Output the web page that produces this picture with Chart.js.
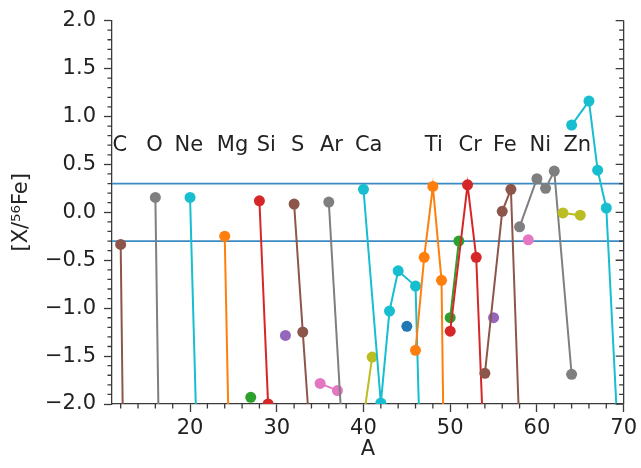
<!DOCTYPE html>
<html>
<head>
<meta charset="utf-8">
<script src="https://cdn.jsdelivr.net/npm/chart.js@4.4.1/dist/chart.umd.min.js"></script>
<style>
    html, body { margin: 0; padding: 0; background: #fff; }
    #wrap { width: 641px; height: 468px; position: relative; }
</style>
</head>
<body>
<div id="wrap"><canvas id="abundanceChart"></canvas></div>
<script>
// ========================================
// Data: [X/56Fe] per isotope, grouped by element
// ========================================

const elements = ['C', 'O', 'Ne', 'Mg', 'Al', 'Si', 'P', 'S', 'Cl', 'Ar', 'K',
    'Ca', 'Sc', 'Ti', 'V', 'Cr', 'Mn', 'Fe', 'Co', 'Ni', 'Cu', 'Zn'];
const atomicNumbers = [6, 8, 10, 12, 13, 14, 15, 16, 17, 18, 19,
    20, 21, 22, 23, 24, 25, 26, 27, 28, 29, 30];

// mass numbers A of the plotted isotopes
const massNumbers = [
    [12, 13], [16, 17], [20, 21], [24, 25], [27], [28, 29], [31], [32, 33, 34],
    [35, 37], [36, 38], [39, 41], [40, 42, 43, 44, 46, 48], [45],
    [46, 47, 48, 49, 50], [50, 51], [50, 52, 53, 54], [55], [54, 56, 57, 58],
    [59], [58, 60, 61, 62, 64], [63, 65], [64, 66, 67, 68, 70]
];

// values below -2 run off the bottom of the plot
const ratios = [
    [-0.335, -7.6], [0.155, -6.1], [0.155, -3.1], [-0.25, -4.7], [-1.93],
    [0.12, -2.0], [-1.285], [0.086, -1.25, -2.55],
    [-1.785, -1.86], [0.107, -3.0], [-2.8, -1.51], [0.24, -1.99, -1.03, -0.61, -0.77, -7.3],
    [-1.19],
    [-1.44, -0.47, 0.27, -0.71, -7.7], [-1.10, -0.30], [-1.24, 0.287, -0.47, -2.75], [-1.10],
    [-1.68, 0.01, 0.24, -2.32],
    [-0.287], [-0.152, 0.35, 0.25, 0.43, -1.69], [-0.007, -0.03], [0.91, 1.16, 0.44, 0.045, -3.5]
];

const bandLimits = [0.3, -0.3];

const xTicks = [20, 30, 40, 50, 60, 70];
const yTicks = [-2, -1.5, -1, -0.5, 0, 0.5, 1, 1.5, 2];

// element name labels (x in A, y in [X/56Fe])
const labelNames = ['C', 'O', 'Ne', 'Mg', 'Si', 'S', 'Ar', 'Ca', 'Ti', 'Cr', 'Fe', 'Ni', 'Zn'];
const labelA = [11.9, 15.9, 19.85, 24.9, 28.8, 32.4, 36.3, 40.6, 48.1, 52.3, 56.3, 60.4, 64.65];
const labelLevel = 0.7;

// ========================================
// Styling
// ========================================

const tab10 = ['#1f77b4', '#ff7f0e', '#2ca02c', '#d62728', '#9467bd',
    '#8c564b', '#e377c2', '#7f7f7f', '#bcbd22', '#17becf'];
const axisColor = '#3a3a3a';
const textColor = '#222';
const FONT = "'DejaVu Sans', sans-serif";

const fmt = v => (v < 0 ? '\u2212' : '') + Math.abs(v).toFixed(1);

const datasets = elements.map((el, i) => {
    const color = tab10[(atomicNumbers[i] - 1) % 10];
    return {
        label: el,
        data: massNumbers[i].map((a, j) => ({ x: a, y: ratios[i][j] })),
        showLine: true,
        borderColor: color,
        backgroundColor: color,
        pointBackgroundColor: color,
        borderWidth: 2,
        pointRadius: 5.5,
        pointBorderWidth: 0,
        pointHoverRadius: 5.5,
        tension: 0,
        order: -i
    };
});

bandLimits.forEach(lim => {
    datasets.push({
        label: 'band',
        data: [{ x: 11, y: lim }, { x: 70, y: lim }],
        showLine: true,
        borderColor: '#3b8bc2',
        borderWidth: 1.8,
        pointRadius: 0,
        order: 1
    });
});

// minor ticks, right spine, element labels
const extrasPlugin = {
    id: 'extras',
    afterDatasetsDraw(chart) {
        const { ctx, scales: { x, y } } = chart;
        ctx.save();
        ctx.fillStyle = textColor;
        ctx.font = '21px ' + FONT;
        ctx.textAlign = 'center';
        ctx.textBaseline = 'middle';
        labelNames.forEach((name, i) => {
            ctx.fillText(name, x.getPixelForValue(labelA[i]), y.getPixelForValue(labelLevel));
        });
        ctx.restore();
    },
    afterDraw(chart) {
        const { ctx, chartArea: area, scales: { x, y } } = chart;
        ctx.save();
        ctx.strokeStyle = axisColor;
        ctx.lineWidth = 1.3;
        ctx.beginPath();
        // right spine
        ctx.moveTo(area.right, area.top);
        ctx.lineTo(area.right, area.bottom);
        // x minor ticks (every 2)
        for (let a = 12; a < 70; a += 2) {
            if (a % 10 === 0) continue;
            const px = x.getPixelForValue(a);
            ctx.moveTo(px, area.bottom);
            ctx.lineTo(px, area.bottom + 4.5);
        }
        // y minor ticks left (outward) and right (inward)
        for (let k = -19; k <= 19; k++) {
            if (k % 5 === 0) continue;
            const py = y.getPixelForValue(k / 10);
            ctx.moveTo(area.left, py);
            ctx.lineTo(area.left - 4.5, py);
            ctx.moveTo(area.right, py);
            ctx.lineTo(area.right - 4.5, py);
        }
        // y major ticks on the right (inward)
        yTicks.forEach(v => {
            const py = y.getPixelForValue(v);
            ctx.moveTo(area.right, py);
            ctx.lineTo(area.right - 8, py);
        });
        ctx.stroke();
        ctx.restore();
    }
};

new Chart(document.getElementById('abundanceChart').getContext('2d'), {
    type: 'scatter',
    data: { datasets: datasets },
    options: {
        responsive: true,
        maintainAspectRatio: false,
        animation: false,
        layout: { padding: { top: 18, right: 16, left: 0, bottom: 0 } },
        plugins: { legend: { display: false }, tooltip: { enabled: false } },
        scales: {
            x: {
                type: 'linear',
                min: 11,
                max: 70,
                afterBuildTicks: s => { s.ticks = xTicks.map(v => ({ value: v })); },
                afterFit: s => { s.height = 64; },
                grid: { drawOnChartArea: false, drawTicks: true, tickLength: 8, tickColor: axisColor, tickWidth: 1.3 },
                border: { display: true, color: axisColor, width: 1.3 },
                ticks: { color: textColor, font: { family: FONT, size: 21 }, padding: 4, maxRotation: 0 },
                title: { display: true, text: 'A', color: textColor, font: { family: FONT, size: 21 }, padding: { top: 0, bottom: 6 } }
            },
            y: {
                type: 'linear',
                min: -2,
                max: 2,
                afterBuildTicks: s => { s.ticks = yTicks.map(v => ({ value: v })); },
                afterFit: s => { s.width = 112; },
                grid: { drawOnChartArea: false, drawTicks: true, tickLength: 8, tickColor: axisColor, tickWidth: 1.3 },
                border: { display: true, color: axisColor, width: 1.3 },
                ticks: { color: textColor, font: { family: FONT, size: 21 }, padding: 8, callback: v => fmt(v) },
                title: { display: true, text: '[X/\u2075\u2076Fe]', color: textColor, font: { family: FONT, size: 21 }, padding: { top: 9, bottom: 0 } }
            }
        }
    },
    plugins: [extrasPlugin]
});
</script>
</body>
</html>
